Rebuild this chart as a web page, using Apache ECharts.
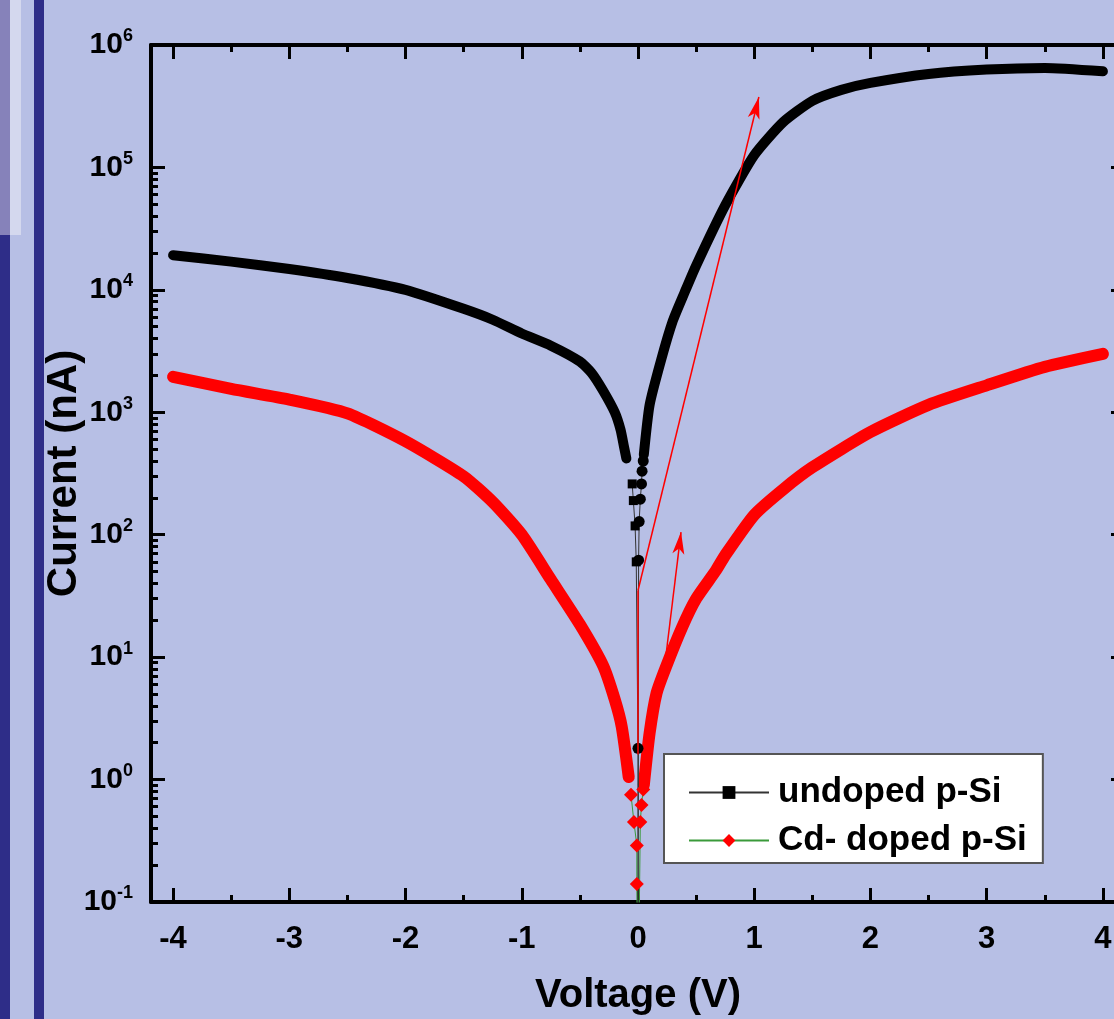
<!DOCTYPE html>
<html>
<head>
<meta charset="utf-8">
<script src="https://cdn.jsdelivr.net/npm/echarts@6/dist/echarts.min.js"></script>
<style>
  html, body { margin: 0; padding: 0; background: #B7BFE5; overflow: hidden; }
  #chart { width: 1130px; height: 1019px; }
</style>
</head>
<body>
<div id="chart"></div>
<script>
// undoped p-Si, dense part (drawn as a thick band)
var undopedNegV = [-4, -3.5, -3, -2.5, -2, -1.5, -1.25, -1, -0.75, -0.5, -0.4, -0.3, -0.2, -0.15, -0.12, -0.1];
var undopedNegI = [1.92e4, 1.70e4, 1.48e4, 1.25e4, 1.0e4, 7.0e3, 5.7e3, 4.4e3, 3.5e3, 2.6e3, 2.1e3, 1.5e3, 1.0e3, 720, 520, 420];
var undopedPosV = [0.05, 0.1, 0.2, 0.3, 0.4, 0.5, 0.75, 1.0, 1.25, 1.5, 1.75, 2.0, 2.5, 3.0, 3.5, 4.0];
var undopedPosI = [450, 1.15e3, 2.7e3, 5.6e3, 9.5e3, 1.58e4, 4.9e4, 1.26e5, 2.35e5, 3.5e5, 4.3e5, 4.9e5, 5.8e5, 6.3e5, 6.5e5, 6.1e5];
// undoped p-Si, sparse points around 0 V
var undopedNearV = [-0.05, -0.04, -0.025, -0.015, 0.0, 0.0, 0.005, 0.01, 0.02, 0.03, 0.035, 0.045];
var undopedNearI = [260, 190, 118, 60, 1.8, 0.01, 62, 128, 195, 260, 330, 400];
var undopedNearSym = ['rect', 'rect', 'rect', 'rect', 'circle', 'none', 'circle', 'circle', 'circle', 'circle', 'circle', 'circle'];

// Cd- doped p-Si
var cdNegV = [-4, -3.5, -3, -2.5, -2, -1.5, -1.25, -1, -0.75, -0.5, -0.3, -0.2, -0.14, -0.08];
var cdNegI = [1.95e3, 1.55e3, 1.27e3, 980, 580, 300, 185, 100, 43, 18.5, 8.5, 4.5, 2.7, 1.05];
var cdPosV = [0.05, 0.1, 0.16, 0.24, 0.38, 0.5, 0.67, 0.75, 1.0, 1.25, 1.5, 2.0, 2.5, 3.0, 3.5, 4.0];
var cdPosI = [0.9, 2.4, 5.1, 8.3, 17.6, 30, 51, 68, 145, 235, 355, 690, 1.15e3, 1.66e3, 2.35e3, 3.0e3];
var cdNearV = [-0.06, -0.035, -0.01, -0.01, 0.0, 0.02, 0.03, 0.045];
var cdNearI = [0.75, 0.45, 0.29, 0.14, 0.01, 0.45, 0.62, 0.83];

var xMajor = [-4, -3, -2, -1, 0, 1, 2, 3, 4];
var xMinor = [-3.5, -2.5, -1.5, -0.5, 0.5, 1.5, 2.5, 3.5];
var decades = [-1, 0, 1, 2, 3, 4, 5];

function pairs(xs, ys) {
    return xs.map(function (x, i) { return [x, ys[i]]; });
}

// minor log ticks (2..9 of each decade) in exponent space for the helper axes
var yMinor = [];
decades.slice(0, 6).forEach(function (d) {
    for (var k = 2; k <= 9; k++) yMinor.push(d + Math.log10(k));
});

var FONT = '"Liberation Sans", Arial, sans-serif';
var chart = echarts.init(document.getElementById('chart'));

var tickMajor = { show: true, inside: true, length: 14, lineStyle: { color: '#000', width: 3 } };
var tickMinor = { show: true, inside: true, length: 7, lineStyle: { color: '#000', width: 3 } };
var boxLine = { onZero: false, lineStyle: { color: '#000', width: 4 } };
var noLine = { show: false, onZero: false };

var option = {
    backgroundColor: '#B7BFE5',
    animation: false,
    graphic: [
        { type: 'rect', left: 0, top: 0, shape: { width: 10, height: 235 }, style: { fill: '#8682BA' } },
        { type: 'rect', left: 10, top: 0, shape: { width: 11, height: 235 }, style: { fill: '#D4D8EE' } },
        { type: 'rect', left: 0, top: 235, shape: { width: 10, height: 784 }, style: { fill: '#2E2D88' } },
        { type: 'rect', left: 34, top: 0, shape: { width: 10, height: 1019 }, style: { fill: '#2E2D88' } }
    ],
    grid: { left: 151, top: 45, width: 974, height: 857, containLabel: false, outerBoundsMode: 'none' },
    legend: {
        orient: 'vertical',
        left: 664,
        top: 754,
        padding: [21, 16, 5, 24],
        itemWidth: 80,
        itemHeight: 16,
        itemGap: 13,
        backgroundColor: '#ffffff',
        borderColor: '#555',
        borderWidth: 2,
        borderRadius: 0,
        textStyle: { fontFamily: FONT, fontWeight: 'bold', fontSize: 35, color: '#000', padding: [0, 0, 0, 4] },
        data: ['undoped p-Si', 'Cd- doped p-Si']
    },
    xAxis: [
        {
            type: 'value', min: -4.19, max: 4.19, position: 'bottom',
            name: 'Voltage (V)', nameLocation: 'middle', nameGap: 74, nameMoveOverlap: false,
            nameTextStyle: { fontFamily: FONT, fontWeight: 'bold', fontSize: 40, color: '#000' },
            axisLine: boxLine,
            axisTick: Object.assign({ customValues: xMajor }, tickMajor),
            axisLabel: { customValues: xMajor, margin: 22, fontFamily: FONT, fontWeight: 'bold', fontSize: 31, color: '#000' },
            splitLine: { show: false }
        },
        {
            type: 'value', min: -4.19, max: 4.19, position: 'bottom',
            axisLine: noLine,
            axisTick: Object.assign({ customValues: xMinor }, tickMinor),
            axisLabel: { show: false }, splitLine: { show: false }
        },
        {
            type: 'value', min: -4.19, max: 4.19, position: 'top',
            axisLine: boxLine,
            axisTick: Object.assign({ customValues: xMajor }, tickMajor),
            axisLabel: { show: false }, splitLine: { show: false }
        },
        {
            type: 'value', min: -4.19, max: 4.19, position: 'top',
            axisLine: noLine,
            axisTick: Object.assign({ customValues: xMinor }, tickMinor),
            axisLabel: { show: false }, splitLine: { show: false }
        }
    ],
    yAxis: [
        {
            type: 'log', logBase: 10, min: 0.1, max: 1e6, splitNumber: 7, position: 'left',
            name: 'Current (nA)', nameLocation: 'middle', nameGap: 66, nameRotate: 90, nameMoveOverlap: false,
            nameTextStyle: { fontFamily: FONT, fontWeight: 'bold', fontSize: 42, color: '#000' },
            axisLine: boxLine,
            axisTick: tickMajor,
            axisLabel: {
                margin: 18,
                formatter: function (v) {
                    return '{b|10}{s|' + Math.round(Math.log10(v)) + '}';
                },
                rich: {
                    b: { fontFamily: FONT, fontWeight: 'bold', fontSize: 30, color: '#000', lineHeight: 32 },
                    s: { fontFamily: FONT, fontWeight: 'bold', fontSize: 18, color: '#000', verticalAlign: 'bottom', padding: [0, 0, 17, 0] }
                }
            },
            splitLine: { show: false }
        },
        {
            type: 'value', min: -1, max: 6, position: 'left',
            axisLine: noLine,
            axisTick: Object.assign({ customValues: yMinor }, tickMinor),
            axisLabel: { show: false }, splitLine: { show: false }
        },
        {
            type: 'log', logBase: 10, min: 0.1, max: 1e6, splitNumber: 7, position: 'right',
            axisLine: boxLine,
            axisTick: tickMajor,
            axisLabel: { show: false }, splitLine: { show: false }
        },
        {
            type: 'value', min: -1, max: 6, position: 'right',
            axisLine: noLine,
            axisTick: Object.assign({ customValues: yMinor }, tickMinor),
            axisLabel: { show: false }, splitLine: { show: false }
        }
    ],
    series: [
        {
            name: 'undoped p-Si', type: 'line', z: 4,
            symbol: 'rect', symbolSize: 9,
            itemStyle: { color: '#000' },
            lineStyle: { color: '#333', width: 1 },
            data: undopedNearV.map(function (v, i) {
                var s = undopedNearSym[i];
                return { value: [v, undopedNearI[i]], symbol: s, symbolSize: s === 'circle' ? 11 : 9 };
            }),
            markLine: {
                silent: true, symbol: ['none', 'arrow'], symbolSize: 14,
                label: { show: false },
                lineStyle: { color: '#ff0000', width: 1.5, type: 'solid' },
                data: [
                    [{ coord: [0.0, 35] }, { coord: [1.04, 3.76e5], symbolSize: [9, 22] }],
                    [{ coord: [0.2, 5] }, { coord: [0.37, 105], symbolSize: [9, 22] }],
                    [{ coord: [-0.005, 1.6], symbol: 'none' }, { coord: [-0.005, 35], symbol: 'none' }]
                ]
            }
        },
        {
            name: 'Cd- doped p-Si', type: 'line', z: 4,
            symbol: 'diamond', symbolSize: 14,
            itemStyle: { color: '#ff0000' },
            lineStyle: { color: '#3A9A3A', width: 1 },
            data: pairs(cdNearV, cdNearI)
        },
        {
            name: 'undoped p-Si', type: 'line', smooth: 0.2, symbol: 'none',
            lineStyle: { color: '#000', width: 10, cap: 'round', join: 'round' },
            data: pairs(undopedNegV, undopedNegI)
        },
        {
            name: 'undoped p-Si', type: 'line', smooth: 0.2, symbol: 'none',
            lineStyle: { color: '#000', width: 10, cap: 'round', join: 'round' },
            data: pairs(undopedPosV, undopedPosI)
        },
        {
            name: 'Cd- doped p-Si', type: 'line', smooth: 0.2, symbol: 'none',
            lineStyle: { color: '#ff0000', width: 12, cap: 'round', join: 'round' },
            data: pairs(cdNegV, cdNegI)
        },
        {
            name: 'Cd- doped p-Si', type: 'line', smooth: 0.2, symbol: 'none',
            lineStyle: { color: '#ff0000', width: 12, cap: 'round', join: 'round' },
            data: pairs(cdPosV, cdPosI)
        }
    ]
};
chart.setOption(option);
</script>
</body>
</html>
